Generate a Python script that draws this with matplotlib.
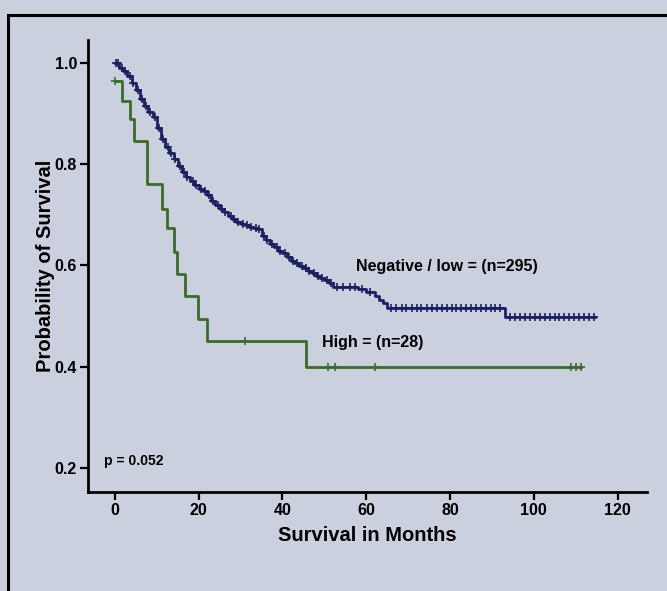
import numpy as np
import matplotlib.pyplot as plt
from matplotlib.lines import Line2D

plt.rcParams['font.family'] = ['Liberation Sans', 'DejaVu Sans']
plt.rcParams['font.weight'] = 'bold'

# --- Negative / low group: step times (months) and survival after each step ---
low_t = [0, 1, 2, 3, 4, 5, 6, 7, 8, 9, 10, 11, 12, 13, 14, 15, 16, 17, 18, 19,
         20, 21, 22, 23, 24, 25, 26, 27, 28, 29, 30, 31, 32, 33, 34, 35, 36, 37,
         38, 39, 40, 41, 42, 43, 44, 45, 46, 47, 48, 49, 50, 51, 52, 58, 60, 62,
         63, 64, 65, 93]
low_s = [1.000, 0.990, 0.983, 0.973, 0.960, 0.947, 0.928, 0.915, 0.903, 0.893,
         0.872, 0.850, 0.833, 0.822, 0.810, 0.797, 0.784, 0.775, 0.766, 0.758,
         0.751, 0.746, 0.738, 0.727, 0.719, 0.712, 0.705, 0.698, 0.691, 0.686,
         0.682, 0.679, 0.676, 0.673, 0.671, 0.658, 0.650, 0.643, 0.636, 0.629,
         0.624, 0.617, 0.609, 0.604, 0.599, 0.594, 0.589, 0.585, 0.580, 0.576,
         0.571, 0.566, 0.558, 0.554, 0.548, 0.540, 0.532, 0.525, 0.517, 0.498]
low_end = 114.5
low_censor = [0.3, 0.8, 1.6, 2.4, 3.5, 4.3, 5.6, 6.4, 7.5, 8.3, 9.6, 10.5, 11.4,
              12.6, 13.5, 14.4, 15.6, 16.5, 17.3, 18.6, 19.4, 20.5, 21.6, 22.4,
              23.5, 24.6, 25.5, 26.4, 27.6, 28.5, 29.3, 30.6, 31.5, 32.4, 33.6,
              34.5, 35.6, 36.4, 37.5, 38.6, 39.4, 40.5, 41.6, 42.5, 43.4, 44.6,
              45.5, 46.4, 47.6, 48.5, 49.4, 50.6, 51.5, 53.0, 54.5, 56.0, 57.3,
              59.0, 61.0, 66.0, 67.2, 68.5, 69.4, 70.8, 72.0, 73.1, 74.5, 75.6,
              76.8, 78.0, 79.2, 80.5, 81.3, 82.6, 83.8, 85.0, 86.1, 87.4, 88.5,
              89.7, 90.8, 92.0, 94.2, 95.5, 96.6, 97.8, 99.0, 100.3, 101.4,
              102.6, 103.8, 105.0, 106.1, 107.3, 108.5, 109.6, 110.8, 112.0,
              113.2, 114.3]

# --- High group ---
high_t = [0, 1.8, 3.6, 4.6, 7.6, 11.2, 12.4, 14.1, 14.9, 16.7, 19.8, 21.9, 45.7]
high_s = [0.963, 0.924, 0.888, 0.846, 0.761, 0.712, 0.673, 0.627, 0.584,
          0.539, 0.495, 0.450, 0.399]
high_end = 111.2
high_censor = [0.0, 31.0, 50.9, 52.5, 62.0, 108.8, 110.0, 111.2]

p_text = "p = 0.052"
low_label = "Negative / low = (n=295)"
high_label = "High = (n=28)"

bg = '#cad0dd'
low_color = '#1b2160'
high_color = '#3b6a2c'


def step_curve(ax, t, s, end, censor, color):
    xs = list(t) + [end]
    ys = list(s) + [s[-1]]
    ax.step(xs, ys, where='post', color=color, lw=2.0, zorder=3)
    cy = [s[max(0, np.searchsorted(t, c, side='right') - 1)] for c in censor]
    ax.plot(censor, cy, ls='none', marker='+', ms=5.5, mew=1.2,
            color=color, zorder=4)


fig = plt.figure(figsize=(6.67, 5.91), dpi=100, facecolor=bg)
ax = fig.add_axes([0.132, 0.1675, 0.838, 0.765], facecolor=bg)

step_curve(ax, low_t, low_s, low_end, low_censor, low_color)
step_curve(ax, high_t, high_s, high_end, high_censor, high_color)

ax.set_xlim(-6.4, 127)
ax.set_ylim(0.153, 1.045)
ax.set_xticks([0, 20, 40, 60, 80, 100, 120])
ax.set_yticks([0.2, 0.4, 0.6, 0.8, 1.0])
ax.set_yticklabels(['0.2', '0.4', '0.6', '0.8', '1.0'])

for side in ['top', 'right']:
    ax.spines[side].set_visible(False)
for side in ['left', 'bottom']:
    ax.spines[side].set_linewidth(2.0)
ax.tick_params(axis='both', direction='out', length=6, width=1.6,
               labelsize=11.5, pad=2)
for lab in ax.get_xticklabels() + ax.get_yticklabels():
    lab.set_fontweight('bold')

ax.set_xlabel('Survival in Months', fontsize=14.5, fontweight='bold',
              labelpad=6)
ax.set_ylabel('Probability of Survival', fontsize=14.5, fontweight='bold',
              labelpad=0)

ax.text(57.5, 0.598, low_label, fontsize=11.5, fontweight='bold', va='center')
ax.text(49.5, 0.447, high_label, fontsize=11.5, fontweight='bold', va='center')
ax.text(-2.6, 0.215, p_text, fontsize=10, fontweight='bold', va='center')

# outer frame around the panel
fig.add_artist(Line2D([0.012, 1.0], [0.975, 0.975], color='black', lw=2.2))
fig.add_artist(Line2D([0.012, 0.012], [0.0, 0.975], color='black', lw=2.2))

fig.savefig('out.png', dpi=100, facecolor=bg)
